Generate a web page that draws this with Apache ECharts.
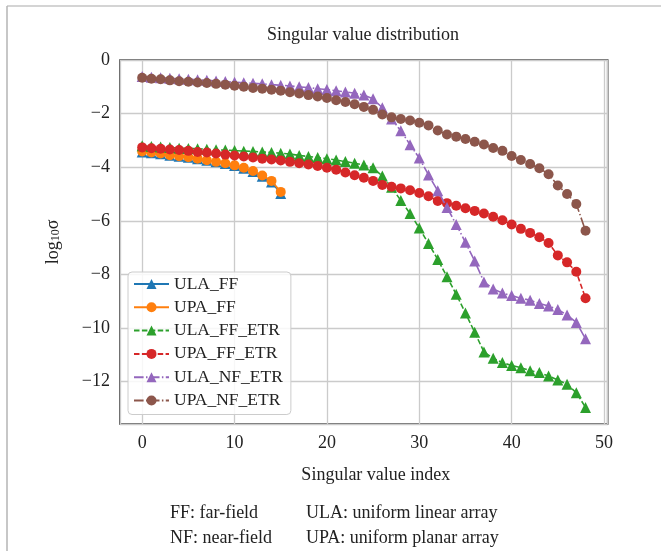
<!DOCTYPE html>
<html>
<head>
<meta charset="utf-8">
<script src="https://cdn.jsdelivr.net/npm/echarts@6/dist/echarts.min.js"></script>
<style>
html,body{margin:0;padding:0;background:#fff;}
#chart{width:661px;height:551px;}
</style>
</head>
<body>
<div id="chart"></div>
<script>
// ---- data ----
const seriesNames = ['ULA_FF', 'UPA_FF', 'ULA_FF_ETR', 'UPA_FF_ETR', 'ULA_NF_ETR', 'UPA_NF_ETR'];

const ulaFF = [-3.43, -3.46, -3.50, -3.55, -3.59, -3.63, -3.68, -3.74, -3.80, -3.86, -3.94, -4.04, -4.16, -4.34, -4.55, -4.98];
const upaFF = [-3.41, -3.45, -3.49, -3.55, -3.59, -3.63, -3.68, -3.74, -3.80, -3.85, -3.93, -4.02, -4.14, -4.31, -4.51, -4.92];

const ulaFFETR = [-3.20, -3.23, -3.25, -3.26, -3.29, -3.30, -3.31, -3.33, -3.35, -3.36,
  -3.38, -3.40, -3.41, -3.43, -3.45, -3.48, -3.51, -3.56, -3.60, -3.64,
  -3.68, -3.73, -3.79, -3.85, -3.92, -4.02, -4.33, -4.75, -5.24, -5.73,
  -6.27, -6.85, -7.44, -8.09, -8.74, -9.44, -10.16, -10.89, -11.13, -11.29,
  -11.40, -11.48, -11.59, -11.66, -11.79, -11.94, -12.10, -12.41, -12.96];

const upaFFETR = [-3.26, -3.29, -3.31, -3.34, -3.36, -3.39, -3.43, -3.45, -3.49, -3.53,
  -3.56, -3.60, -3.64, -3.68, -3.71, -3.75, -3.80, -3.85, -3.90, -3.95,
  -4.02, -4.09, -4.20, -4.30, -4.39, -4.51, -4.66, -4.73, -4.79, -4.86,
  -4.96, -5.08, -5.26, -5.34, -5.44, -5.53, -5.63, -5.73, -5.85, -5.98,
  -6.14, -6.30, -6.45, -6.61, -6.83, -7.29, -7.55, -7.90, -8.89];

const ulaNFETR = [-0.62, -0.64, -0.66, -0.68, -0.70, -0.72, -0.74, -0.76, -0.78, -0.80,
  -0.83, -0.85, -0.87, -0.89, -0.92, -0.94, -0.97, -1.00, -1.03, -1.07,
  -1.10, -1.15, -1.19, -1.24, -1.31, -1.45, -1.78, -2.20, -2.64, -3.16,
  -3.66, -4.29, -4.88, -5.50, -6.14, -6.80, -7.50, -8.28, -8.54, -8.69,
  -8.79, -8.89, -8.96, -9.08, -9.18, -9.31, -9.51, -9.79, -10.40];

const upaNFETR = [-0.66, -0.70, -0.72, -0.76, -0.79, -0.81, -0.84, -0.86, -0.89, -0.92,
  -0.96, -1.00, -1.04, -1.07, -1.11, -1.15, -1.20, -1.25, -1.31, -1.36,
  -1.42, -1.50, -1.57, -1.65, -1.75, -1.86, -2.03, -2.14, -2.20, -2.26,
  -2.34, -2.44, -2.63, -2.78, -2.86, -2.95, -3.05, -3.15, -3.28, -3.39,
  -3.58, -3.73, -3.88, -4.04, -4.26, -4.68, -5.00, -5.37, -6.37];

const xTicks = [0, 10, 20, 30, 40, 50];
const yTicks = [-12, -10, -8, -6, -4, -2, 0];
const xRange = [-2.4, 50.4];
const yRange = [-13.58, 0];

const titleText = 'Singular value distribution';
const xName = 'Singular value index';
const notes = [['FF: far-field', 'ULA: uniform linear array'], ['NF: near-field', 'UPA: uniform planar array']];

// ---- styling ----
const FONT = '"Liberation Serif", "DejaVu Serif", serif';
const colors = ['#1f77b4', '#ff7f0e', '#2ca02c', '#d62728', '#9467bd', '#8c564b'];
const symbols = ['triangle', 'circle', 'triangle', 'circle', 'triangle', 'circle'];
const dashes = ['solid', 'solid', [5.5, 2.4], [5.5, 2.4], [9.6, 2.4, 1.5, 2.4], [9.6, 2.4, 1.5, 2.4]];
const values = [ulaFF, upaFF, ulaFFETR, upaFFETR, ulaNFETR, upaNFETR];

function fmt(v) { return v < 0 ? '\u2212' + Math.abs(v) : String(v); }

const series = seriesNames.map((name, k) => ({
  name: name,
  type: 'line',
  data: values[k].map((v, i) => [i, v]),
  symbol: symbols[k],
  symbolSize: symbols[k] === 'circle' ? 10 : 11,
  showSymbol: true,
  showAllSymbol: true,
  color: colors[k],
  lineStyle: { width: 1.6, type: dashes[k], color: colors[k] },
  itemStyle: { color: colors[k] },
  emphasis: { disabled: true },
  animation: false,
  z: 2 + k * 0.01
}));

const chart = echarts.init(document.getElementById('chart'), null, { renderer: 'canvas' });

const graphics = [
  { type: 'line', shape: { x1: 7, y1: 6, x2: 661, y2: 6 }, style: { stroke: '#d4d4d4', lineWidth: 2 }, silent: true },
  { type: 'line', shape: { x1: 7, y1: 6, x2: 7, y2: 551 }, style: { stroke: '#b4b4b4', lineWidth: 1.5 }, silent: true }
];
notes.forEach((row, r) => {
  graphics.push({ type: 'text', left: 170, top: 504 + r * 25,
    style: { text: row[0], font: '18px ' + FONT, fill: '#222' } });
  graphics.push({ type: 'text', left: 306, top: 504 + r * 25,
    style: { text: row[1], font: '18px ' + FONT, fill: '#222' } });
});

chart.setOption({
  animation: false,
  backgroundColor: '#fff',
  title: {
    text: titleText,
    left: 363,
    textAlign: 'center',
    top: 26,
    padding: 0,
    textStyle: { fontFamily: FONT, fontSize: 18, fontWeight: 'normal', color: '#222' }
  },
  grid: {
    left: 120, top: 60, right: 53.3, bottom: 127,
    show: true, borderColor: '#3a3a3a', borderWidth: 1.6, backgroundColor: 'transparent',
    containLabel: false
  },
  legend: {
    orient: 'vertical',
    left: 128, top: 272,
    padding: [3, 8, 5, 5],
    itemWidth: 35, itemHeight: 12.5, itemGap: 5.3,
    backgroundColor: 'rgba(255,255,255,0.85)',
    borderColor: '#cccccc', borderWidth: 1, borderRadius: 4,
    textStyle: { fontFamily: FONT, fontSize: 17.5, lineHeight: 18, color: '#222' },
    data: seriesNames
  },
  xAxis: {
    type: 'value',
    min: xRange[0], max: xRange[1],
    splitNumber: 5,
    name: xName,
    nameLocation: 'middle',
    nameGap: 42,
    nameTextStyle: { fontFamily: FONT, fontSize: 18, color: '#222', padding: [0, 0, 0, 24] },
    axisLine: { show: false },
    axisTick: { show: false },
    axisLabel: { fontFamily: FONT, fontSize: 18, color: '#222', margin: 10,
      showMinLabel: false, showMaxLabel: false,
      formatter: v => xTicks.includes(v) ? fmt(v) : '' },
    splitLine: { show: true, lineStyle: { color: '#cbcbcb', width: 1.3 } }
  },
  yAxis: {
    type: 'value',
    min: yRange[0], max: yRange[1],
    splitNumber: 7,
    name: '{l|log}{s|10}{l|\u03c3}',
    nameLocation: 'middle',
    nameGap: 58,
    nameTextStyle: {
      rich: {
        l: { fontFamily: FONT, fontSize: 18, color: '#222', lineHeight: 24, verticalAlign: 'bottom' },
        s: { fontFamily: FONT, fontSize: 12, color: '#222', lineHeight: 12, verticalAlign: 'bottom' }
      }
    },
    axisLine: { show: false },
    axisTick: { show: false },
    axisLabel: { fontFamily: FONT, fontSize: 18, color: '#222', margin: 10,
      showMinLabel: false,
      formatter: v => yTicks.includes(v) ? fmt(v) : '' },
    splitLine: { show: true, lineStyle: { color: '#cbcbcb', width: 1.3 } }
  },
  graphic: graphics,
  series: series
});
</script>
</body>
</html>
